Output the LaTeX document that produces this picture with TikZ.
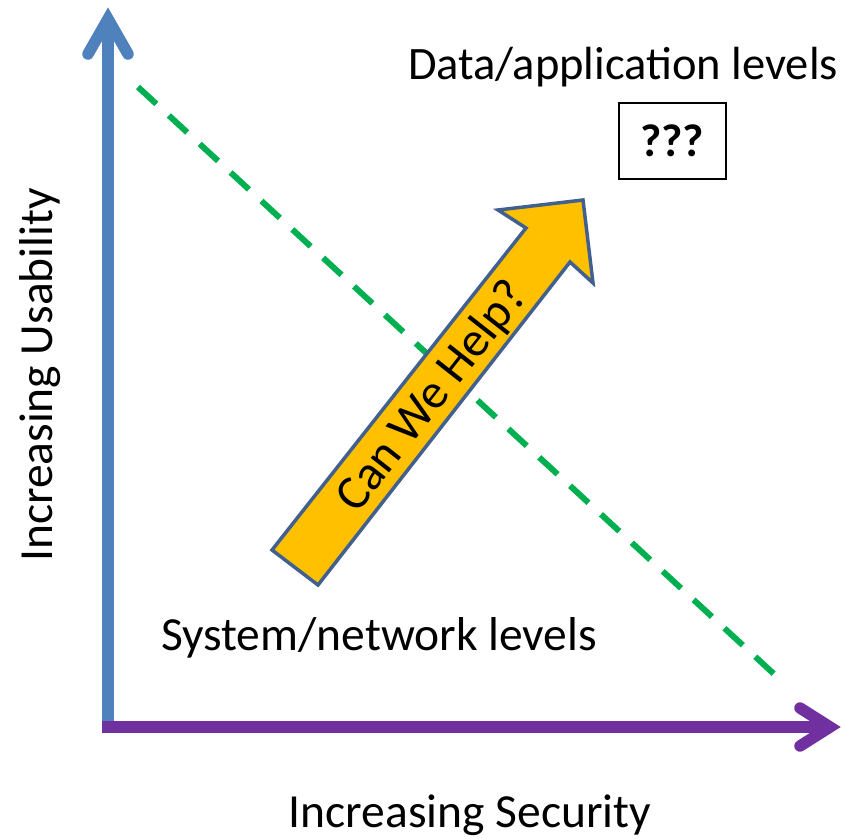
\documentclass[tikz,border=0pt]{standalone}
\usepackage{fontspec}
\setmainfont{Carlito}
\usepackage{tikz}

\definecolor{axisblue}{HTML}{4F81BD}
\definecolor{axispurple}{HTML}{7030A0}
\definecolor{tradegreen}{HTML}{00B050}
\definecolor{helpfill}{HTML}{FFC000}
\definecolor{helpline}{HTML}{41608F}

\begin{document}
\begin{tikzpicture}
                [x=1pt,y=-1pt,
                every node/.style={font=\fontsize{47.5}{52}\selectfont,inner sep=0pt},
                axis/.style={line width=11.5pt},
                barb/.style={line width=11.5pt,line cap=round,miter limit=10},
                tradeoff/.style={tradegreen,line width=6pt,dash pattern=on 25pt off 17pt}]
                \useasboundingbox (0,0) rectangle (859,838);
                \coordinate (origin) at (108,727);
                \coordinate (ytip) at (108,19);
                \coordinate (xtip) at (830,727);
                \coordinate (dashStart) at (138,87);
                \coordinate (dashEnd) at (774,674);
                % usability vs security trade-off
                \draw[tradeoff] (dashStart) -- (dashEnd);
                % axes
                \draw[axis,axisblue] (origin) -- (ytip);
                \draw[barb,axisblue] ([shift={(-20,35)}]ytip) -- (ytip) -- ([shift={(20,35)}]ytip);
                \draw[axis,axispurple] ([xshift=-6pt]origin) -- (xtip);
                \draw[barb,axispurple] ([shift={(-30,-19)}]xtip) -- (xtip) -- ([shift={(-30,19)}]xtip);
                % big arrow
                \draw[helpline,fill=helpfill,line width=3.5pt,line join=miter]
                (272,550) -- (526,228) -- (498,210) -- (583,200)
                -- (593,283) -- (570,262) -- (318,585) -- cycle;
                \node[rotate=51.8,font=\fontsize{49}{52}\selectfont] (helpText) at (433,397) {Can We Help?};
                % labels
                \node[font=\fontsize{46.5}{52}\selectfont] (dataLevel) at (623,67) {Data/application levels};
                \node (sysLevel) at (379,638) {System/network levels};
                \node[draw,line width=2pt,minimum width=107pt,minimum height=76pt,
                font=\fontsize{46}{50}\selectfont\bfseries] (unknownBox) at (672,141) {???};
                \node (xLabel) at (470,815) {Increasing Security};
                \node[rotate=90] (yLabel) at (40,375) {Increasing Usability};
\end{tikzpicture}
\end{document}
